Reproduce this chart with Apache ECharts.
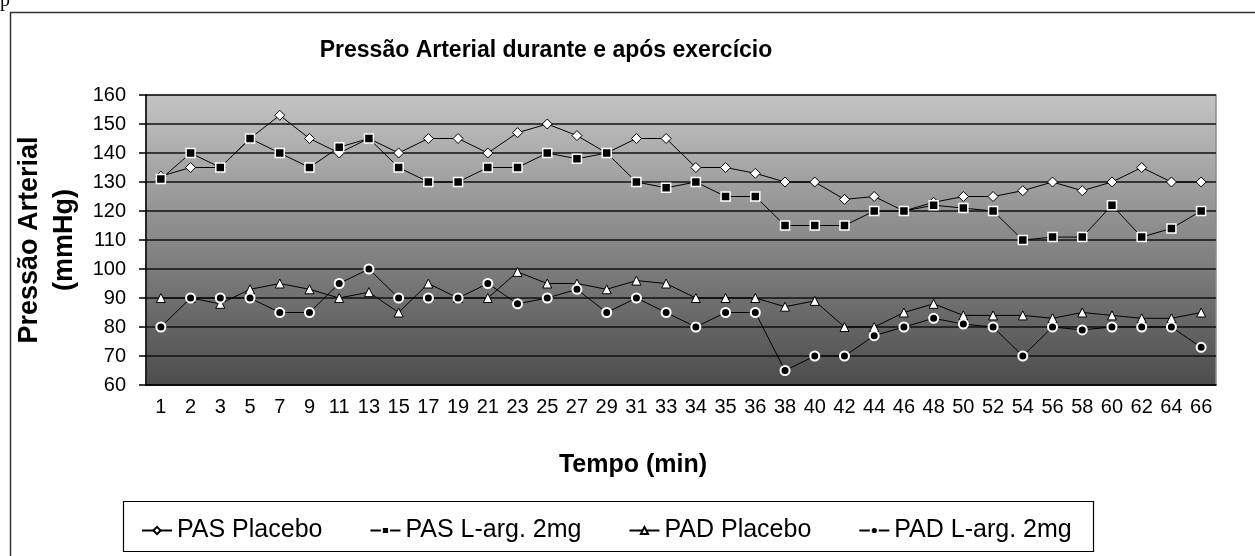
<!DOCTYPE html>
<html>
<head>
<meta charset="utf-8">
<script src="https://cdn.jsdelivr.net/npm/echarts@6/dist/echarts.min.js"></script>
<style>
  html, body { margin: 0; padding: 0; background: #fff; }
  #chart { width: 1255px; height: 556px; }
</style>
</head>
<body>
<div id="chart"></div>
<script>
// tempo (min)
const tempo = ["1", "2", "3", "5", "7", "9", "11", "13", "15", "17", "19", "21", "23", "25", "27", "29", "31", "33",
  "34", "35", "36", "38", "40", "42", "44", "46", "48", "50", "52", "54", "56", "58", "60", "62", "64", "66"];

const pasPlacebo = [132, 135, 135, 145, 153, 145, 140, 145, 140, 145, 145, 140, 147, 150, 146, 140, 145, 145,
  135, 135, 133, 130, 130, 124, 125, 120, 123, 125, 125, 127, 130, 127, 130, 135, 130, 130];
const pasLarg = [131, 140, 135, 145, 140, 135, 142, 145, 135, 130, 130, 135, 135, 140, 138, 140, 130, 128,
  130, 125, 125, 115, 115, 115, 120, 120, 122, 121, 120, 110, 111, 111, 122, 111, 114, 120];
const padPlacebo = [90, 90, 88, 93, 95, 93, 90, 92, 85, 95, 90, 90, 99, 95, 95, 93, 96, 95,
  90, 90, 90, 87, 89, 80, 80, 85, 88, 84, 84, 84, 83, 85, 84, 83, 83, 85];
const padLarg = [80, 90, 90, 90, 85, 85, 95, 100, 90, 90, 90, 95, 88, 90, 93, 85, 90, 85,
  80, 85, 85, 65, 70, 70, 77, 80, 83, 81, 80, 70, 80, 79, 80, 80, 80, 73];

const yTicks = [60, 70, 80, 90, 100, 110, 120, 130, 140, 150, 160];

const sans = "'Liberation Sans', Arial, sans-serif";
const chart = echarts.init(document.getElementById("chart"));

function serie(name, data, symbol, fill, border, bw, size) {
  return {
    name: name,
    type: "line",
    data: data,
    symbol: symbol,
    symbolSize: size,
    showAllSymbol: true,
    lineStyle: { color: "#000", width: 1 },
    itemStyle: { color: fill, borderColor: border, borderWidth: bw },
    emphasis: { disabled: true },
    z: 3
  };
}

chart.setOption({
  animation: false,
  title: {
    text: "Pressão Arterial durante e após exercício",
    left: 541,
    top: 34,
    textAlign: "center",
    textStyle: { fontFamily: sans, fontWeight: "bold", fontSize: 23, color: "#000" }
  },
  graphic: [
    { type: "rect", shape: { x: 10.5, y: 12.5, width: 1300, height: 600 },
      style: { fill: null, stroke: "#333", lineWidth: 1.5 }, silent: true },
    { type: "rect", shape: { x: 123.5, y: 501.5, width: 970, height: 50 },
      style: { fill: "#fff", stroke: "#000", lineWidth: 1.2 }, silent: true, z: -1 },
    { type: "text", x: 0, y: -9, style: { text: "p", font: "20px 'Liberation Serif', serif", fill: "#000" } },
    { type: "text", x: 633, y: 465,
      style: { text: "Tempo (min)", font: "bold 25px " + sans, fill: "#000", align: "center", verticalAlign: "middle" } }
  ],
  grid: {
    left: 146, top: 95, right: 39, bottom: 171,
    outerBoundsMode: "none",
    containLabel: false,
    show: true,
    borderColor: "#8a8a8a",
    borderWidth: 1.5,
    backgroundColor: new echarts.graphic.LinearGradient(0, 0, 0, 1, [
      { offset: 0, color: "#c4c4c4" },
      { offset: 1, color: "#4c4c4c" }
    ])
  },
  legend: {
    left: 136,
    top: 513,
    itemGap: 47,
    itemWidth: 30,
    itemHeight: 9,
    textStyle: { fontFamily: sans, fontSize: 25, color: "#000" },
    data: ["PAS Placebo", "PAS L-arg. 2mg", "PAD Placebo", "PAD L-arg. 2mg"]
  },
  xAxis: {
    type: "category",
    data: tempo,
    boundaryGap: true,
    axisLine: { lineStyle: { color: "#000", width: 1.5 } },
    axisTick: { show: false },
    axisLabel: { interval: 0, margin: 12, fontFamily: sans, fontSize: 20, color: "#000" }
  },
  yAxis: {
    type: "value",
    min: yTicks[0],
    max: yTicks[yTicks.length - 1],
    interval: 10,
    name: "Pressão Arterial\n(mmHg)",
    nameLocation: "middle",
    nameRotate: 90,
    nameGap: 62,
    nameTextStyle: { fontFamily: sans, fontWeight: "bold", fontSize: 27, color: "#000", lineHeight: 35 },
    axisLine: { show: true, lineStyle: { color: "#000", width: 1.5 } },
    axisTick: { show: true, inside: false, length: 7, lineStyle: { color: "#000", width: 1.5 } },
    axisLabel: { margin: 20, fontFamily: sans, fontSize: 20, color: "#000" },
    splitLine: { show: true, lineStyle: { color: "#111", width: 1.6 } }
  },
  series: [
    serie("PAS Placebo", pasPlacebo, "diamond", "#fff", "#000", 1, 10),
    serie("PAS L-arg. 2mg", pasLarg, "rect", "#000", "#fff", 1.5, 9),
    serie("PAD Placebo", padPlacebo, "triangle", "#fff", "#000", 1, 9),
    serie("PAD L-arg. 2mg", padLarg, "circle", "#000", "#fff", 2, 9)
  ]
});
</script>
</body>
</html>
